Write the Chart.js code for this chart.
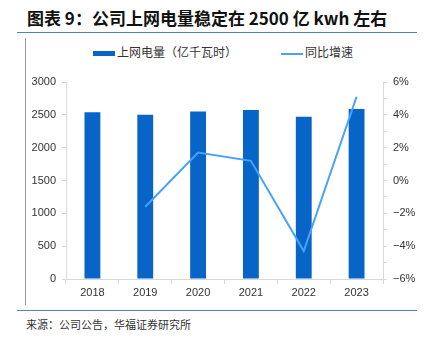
<!DOCTYPE html>
<html>
<head>
<meta charset="utf-8">
<script src="https://cdn.jsdelivr.net/npm/chart.js@4"></script>
<style>
  body { margin: 0; width: 428px; height: 344px; background: #fff; position: relative; overflow: hidden;
         font-family: "Noto Sans CJK SC", "Liberation Sans", sans-serif; }
  .title { position: absolute; left: 27px; top: 5px; font-size: 17px; font-weight: bold; color: #111; white-space: nowrap; }
  .rule { position: absolute; left: 17px; width: 400px; height: 0; border-top: 1.5px solid #4f81bd; }
  .frame { position: absolute; left: 25px; top: 38px; width: 0; height: 267px; border-left: 1px solid #999; }
  .legend { position: absolute; top: 43px; font-size: 12px; color: #333; white-space: nowrap; }
  .legend span.sw { display: inline-block; vertical-align: middle; width: 22px; margin-right: 2px; }
  .src { position: absolute; left: 26px; top: 316px; font-size: 11px; color: #333; }
  #wrap { position: absolute; left: 25px; top: 38px; width: 400px; height: 262px; }
</style>
</head>
<body>
<div class="title">图表 9：公司上网电量稳定在 2500 亿 kwh 左右</div>
<div class="rule" style="top:32px"></div>
<div class="frame"></div>
<div class="legend" style="left:93px"><span class="sw" style="height:5px;background:#0765c8"></span>上网电量（亿千瓦时）</div>
<div class="legend" style="left:281px"><span class="sw" style="height:2px;background:#4aa0ff"></span>同比增速</div>
<div id="wrap"><canvas id="c"></canvas></div>
<div class="rule" style="top:310px"></div>
<div class="src">来源：公司公告，华福证券研究所</div>
<script>
// ── Data ─────────────────────────────────────────────
const years  = ['2018', '2019', '2020', '2021', '2022', '2023'];
const output = [2540, 2500, 2550, 2575, 2470, 2590];   // 上网电量（亿千瓦时）
const growth = [null, -1.6, 1.7, 1.2, -4.3, 5.1];      // 同比增速 %

const axisColor = '#d9d9d9';
const tickFont  = { family: 'Liberation Sans, Arial, sans-serif', size: 11 };

new Chart(document.getElementById('c'), {
  data: {
    labels: years,
    datasets: [
      {
        type: 'bar',
        label: '上网电量（亿千瓦时）',
        data: output,
        backgroundColor: '#0765c8',
        barPercentage: 0.6,
        categoryPercentage: 0.5,
        yAxisID: 'y',
        order: 2,
      },
      {
        type: 'line',
        label: '同比增速',
        data: growth,
        borderColor: '#4aa0ff',
        borderWidth: 2,
        pointRadius: 0,
        tension: 0,
        yAxisID: 'y1',
        order: 1,
      },
    ],
  },
  options: {
    responsive: true,
    maintainAspectRatio: false,
    animation: false,
    layout: { padding: { top: 44, left: 0, right: 0, bottom: 0 } },
    plugins: { legend: { display: false }, tooltip: { enabled: false } },
    scales: {
      x: {
        offset: true,
        grid: { offset: true, drawOnChartArea: false, tickLength: 5, color: axisColor },
        border: { color: axisColor },
        ticks: { color: '#333', font: tickFont, padding: 2 },
        afterFit: s => { s.height = 21; },
      },
      y: {
        position: 'left',
        min: 0, max: 3000,
        grid: { drawOnChartArea: false, tickLength: 4, color: axisColor },
        border: { color: axisColor },
        ticks: { stepSize: 500, color: '#333', font: tickFont, padding: 6, callback: v => String(v) },
        afterFit: s => { s.width = 41; },
      },
      y1: {
        position: 'right',
        min: -6, max: 6,
        grid: { drawOnChartArea: false, tickLength: 4, color: axisColor },
        border: { color: axisColor },
        ticks: {
          stepSize: 1, autoSkip: false, color: '#333', font: tickFont, padding: 6,
          callback: v => (v % 2 !== 0 ? '' : (v < 0 ? '\u2212' + Math.abs(v) : v) + '%'),
        },
        afterFit: s => { s.width = 42; },
      },
    },
  },
});
</script>
</body>
</html>
